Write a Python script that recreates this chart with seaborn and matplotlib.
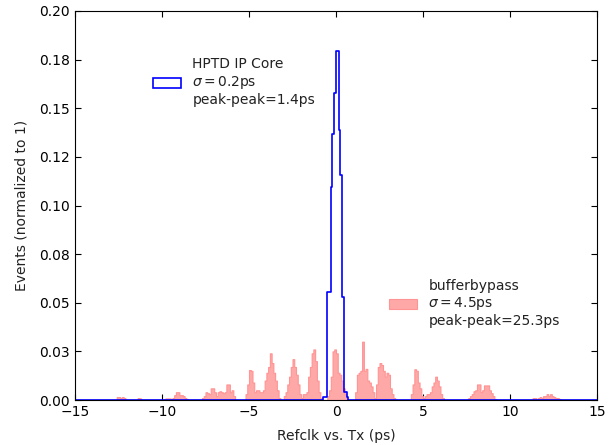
import numpy as np
import pandas as pd
import matplotlib
matplotlib.use("Agg")
import matplotlib.pyplot as plt
from matplotlib.patches import Patch
import seaborn as sns

# ---------------- data ----------------
# HPTD IP Core histogram: bin edges (ps) and normalized heights
blue_edges = [-15.0, -0.77, -0.54, -0.30, -0.21, -0.10, 0.00, 0.17, 0.25, 0.36, 0.48, 0.61, 0.70, 15.0]
blue_heights = [0.0, 0.0017, 0.0557, 0.1097, 0.137, 0.1577, 0.1796, 0.139, 0.1157, 0.053, 0.004, 0.0015, 0.0]

# bufferbypass histogram: 0.1 ps bins from -13 ps to +13 ps, heights in units of 1e-3
red_start = -13.0
red_bin_width = 0.1
red_heights_1e3 = [
    0, 0, 0, 0, 1.5, 1.5, 1, 1.5, 1, 0,          # -13 .. -12.1
    0, 0, 0, 0, 0, 0, 1, 0.8, 0, 0,              # -12 .. -11.1
    0, 0, 0, 0, 0, 0, 0, 0, 0, 0,                # -11 .. -10.1
    0, 0.5, 0.8, 0.8, 0.8, 0.5, 1, 2.5, 4, 4,    # -10 .. -9.1
    2.5, 2.5, 2, 1, 0.5, 0, 0, 0, 0, 0,          # -9 .. -8.1
    0, 0, 0, 1, 2, 4, 3.5, 3, 6, 6,              # -8 .. -7.1
    4, 2, 4, 4.5, 4, 3.5, 4, 8, 8, 4,            # -7 .. -6.1
    5, 2, 0, 0, 0, 0, 0, 0, 3, 8,                # -6 .. -5.1
    15.4, 15, 9, 4, 5, 5, 4, 4, 5, 10,           # -5 .. -4.1
    14, 17, 24, 19, 14, 10, 5, 1, 0, 0,          # -4 .. -3.1
    2, 4, 8, 12, 17, 21, 17, 13, 8, 3,           # -3 .. -2.1
    1, 3, 3, 4, 12, 17, 24, 26, 20, 10,          # -2 .. -1.1
    4, 1, 0, 0, 0, 2, 5, 12, 25, 26,             # -1 .. -0.1
    24, 14, 13, 10, 6, 3, 0, 0, 0, 0,            # 0 .. 0.9
    0, 4, 13, 14, 15, 30, 15, 16, 10, 9,         # 1 .. 1.9
    7, 4, 1, 8, 17, 19, 18, 15, 12, 14,          # 2 .. 2.9
    13, 6, 3, 1, 0, 0, 0, 0, 0, 0,               # 3 .. 3.9
    0, 0, 0, 3, 8, 15.8, 15, 9, 6, 2,            # 4 .. 4.9
    1, 2, 3, 3, 4, 7, 9, 12, 10, 7,              # 5 .. 5.9
    3, 1, 0, 0, 0, 0, 0, 0, 0, 0,                # 6 .. 6.9
    0, 0, 0, 0, 0, 0, 1, 2, 3, 4.5,              # 7 .. 7.9
    5, 8, 8, 4, 5, 7.5, 7.5, 7.5, 5, 3.5,        # 8 .. 8.9
    2, 0.5, 0, 0, 0, 0, 0, 0, 0, 0,              # 9 .. 9.9
    0, 0, 0, 0, 0, 0, 0, 0, 0, 0,                # 10 .. 10.9
    0, 0, 0, 1, 1, 0.5, 1, 1.5, 1, 2,            # 11 .. 11.9
    2, 3, 2, 3, 2, 1.5, 1, 1, 0.5, 0,            # 12 .. 12.9
]

blue_label = "HPTD IP Core\n$\\sigma=$0.2ps\npeak-peak=1.4ps"
red_label = "bufferbypass\n$\\sigma=$4.5ps\npeak-peak=25.3ps"
x_label = "Refclk vs. Tx (ps)"
y_label = "Events (normalized to 1)"
x_ticks = [-15, -10, -5, 0, 5, 10, 15]
y_ticks = [0.0, 0.025, 0.05, 0.075, 0.1, 0.125, 0.15, 0.175, 0.2]
y_tick_labels = ["0.00", "0.03", "0.05", "0.08", "0.10", "0.12", "0.15", "0.18", "0.20"]

# ---------------- derived ----------------
blue_edges_a = np.array(blue_edges)
blue_df = pd.DataFrame({
    "x": 0.5 * (blue_edges_a[:-1] + blue_edges_a[1:]),
    "w": blue_heights,
})
red_h = np.array(red_heights_1e3) * 1e-3
red_edges = np.round(red_start + red_bin_width * np.arange(len(red_h) + 1), 2)
red_df = pd.DataFrame({
    "x": 0.5 * (red_edges[:-1] + red_edges[1:]),
    "w": red_h,
})

# ---------------- plot ----------------
sns.set_style("ticks", {"xtick.direction": "in", "ytick.direction": "in"})
plt.rcParams["font.family"] = ["DejaVu Sans"]
plt.rcParams["font.size"] = 10

fig = plt.figure(figsize=(6.13, 4.45), dpi=100)
ax = fig.add_axes([0.1223, 0.1011, 0.8517, 0.8742])

red_face = (1.0, 0.66, 0.66)
red_edge = (1.0, 0.58, 0.58)
sns.histplot(data=red_df, x="x", weights="w", bins=list(red_edges), element="step",
             fill=True, ax=ax, facecolor=red_face, edgecolor=red_edge,
             linewidth=0.8, alpha=1)
sns.histplot(data=blue_df, x="x", weights="w", bins=list(blue_edges_a), element="step",
             fill=False, ax=ax, color="blue", linewidth=1.2, alpha=1)

ax.set_xlim(-15, 15)
ax.set_ylim(0, 0.2)
ax.set_xticks(x_ticks)
ax.set_xticklabels([f"\u2212{abs(t)}" if t < 0 else str(t) for t in x_ticks])
ax.set_yticks(y_ticks)
ax.set_yticklabels(y_tick_labels)
ax.tick_params(direction="in", top=True, right=True, length=4, width=0.8,
               labelsize=10, colors="black")
for s in ax.spines.values():
    s.set_visible(True)
    s.set_color("black")
    s.set_linewidth(0.8)
ax.set_xlabel(x_label, fontsize=10, color="#222222", labelpad=7)
ax.set_ylabel(y_label, fontsize=10, color="#222222", labelpad=8)

h_blue = Patch(facecolor="white", edgecolor="blue", linewidth=1.2)
h_red = Patch(facecolor=red_face, edgecolor=red_edge, linewidth=0.8)
leg1 = ax.legend([h_blue], [blue_label], loc="upper left", frameon=False,
                 bbox_to_anchor=(0.230, 0.899), bbox_transform=fig.transFigure,
                 fontsize=10)
for t in leg1.get_texts():
    t.set_color("#222222")
ax.add_artist(leg1)
leg2 = ax.legend([h_red], [red_label], loc="upper left", frameon=False,
                 bbox_to_anchor=(0.615, 0.402), bbox_transform=fig.transFigure,
                 fontsize=10)
for t in leg2.get_texts():
    t.set_color("#222222")

fig.savefig("out.png", dpi=100)
